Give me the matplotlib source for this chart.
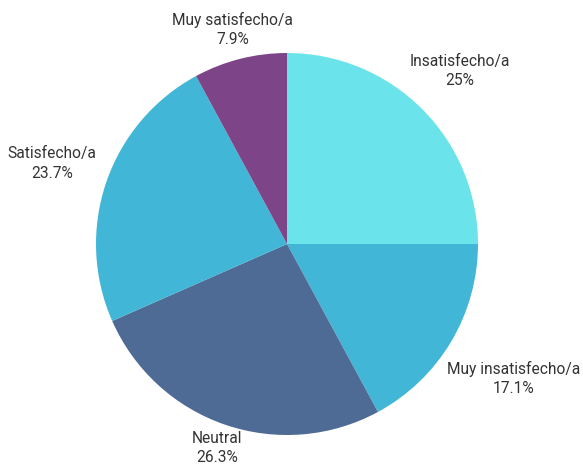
import numpy as np
import matplotlib
matplotlib.use("Agg")
import matplotlib.pyplot as plt

labels = ["Insatisfecho/a", "Muy insatisfecho/a", "Neutral", "Satisfecho/a", "Muy satisfecho/a"]
values = [25.0, 17.1, 26.3, 23.7, 7.9]
pct_labels = ["25%", "17.1%", "26.3%", "23.7%", "7.9%"]
colors = ["#6ae4ea", "#41b6d6", "#4e6b96", "#41b6d6", "#7d4588"]
label_dist = [1.28, 1.38, 1.13, 1.30, 1.16]

W, H = 583, 467
fig = plt.figure(figsize=(W / 100, H / 100), dpi=100)
cx, cy, r = 287, 244, 191
ax = fig.add_axes([(cx - r) / W, (H - cy - r) / H, 2 * r / W, 2 * r / H])
wedges, _ = ax.pie(values, colors=colors, startangle=90, counterclock=False,
                   radius=1, wedgeprops=dict(linewidth=0))
ax.set_xlim(-1, 1)
ax.set_ylim(-1, 1)
ax.set_aspect("equal")
ax.axis("off")

for w, lab, pct, d in zip(wedges, labels, pct_labels, label_dist):
    th = np.deg2rad((w.theta1 + w.theta2) / 2)
    ax.text(d * np.cos(th), d * np.sin(th), f"{lab}\n{pct}", ha="center", va="center",
            multialignment="center", fontsize=11.2, color="#333333", family=["Roboto", "DejaVu Sans"],
            linespacing=1.35, clip_on=False)

fig.savefig("out.png", dpi=100, facecolor="white")
